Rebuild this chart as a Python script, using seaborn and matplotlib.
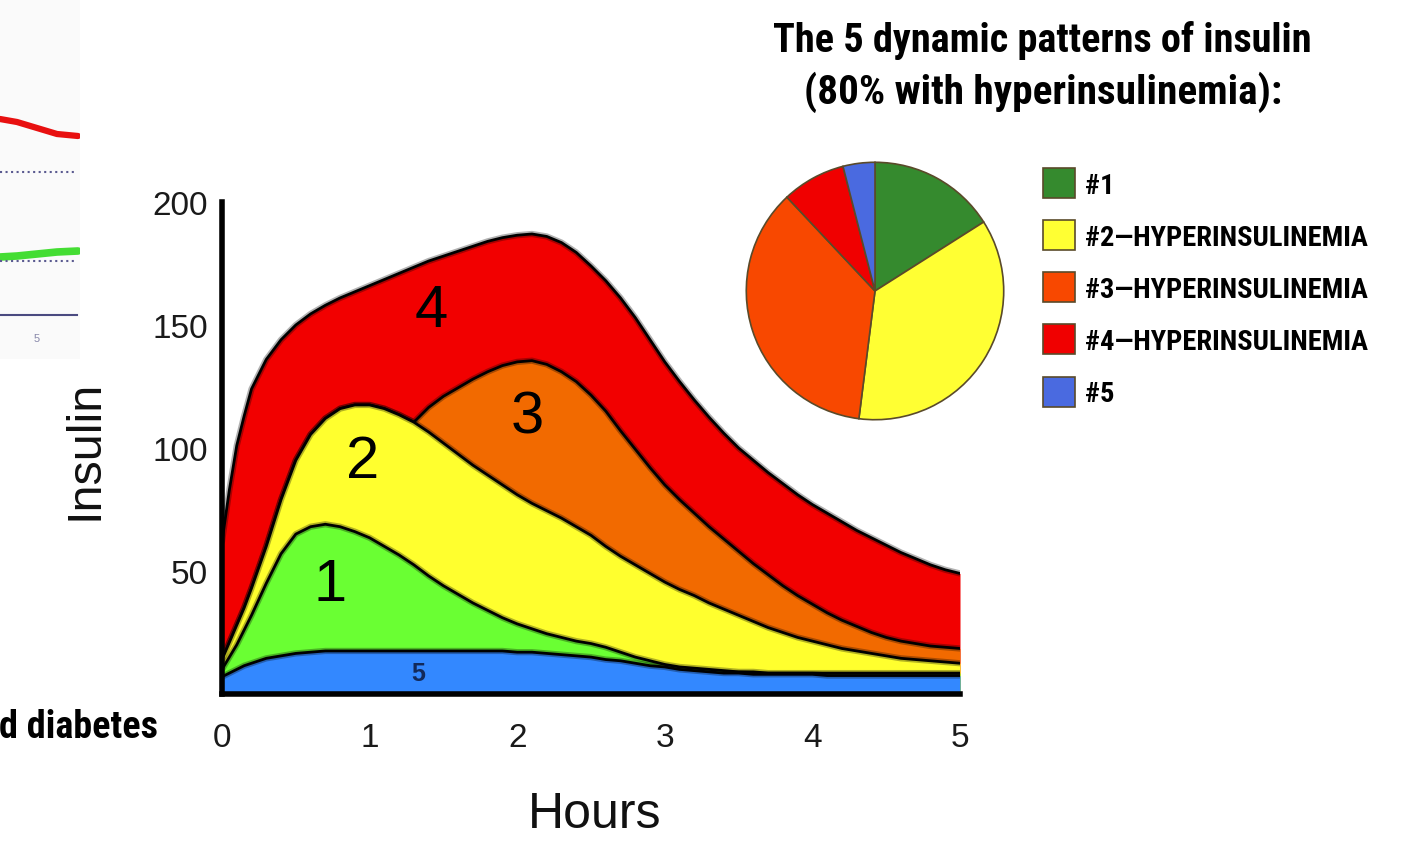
#5 dynamic insulin patterns - area curves plus pie of pattern share
import seaborn as sns
import matplotlib.pyplot as plt
import matplotlib.patheffects as pe
from matplotlib import font_manager as fm

sns.set_style('white')
plt.rcParams['font.family'] = ['Liberation Sans', 'DejaVu Sans']
plt.rcParams['text.color'] = 'black'
plt.rcParams['axes.labelcolor'] = 'black'

W, H = 1413, 853

# hours after glucose load
hours = [0, 0.05, 0.1, 0.15, 0.2, 0.3, 0.4, 0.5, 0.6, 0.7, 0.8, 0.9, 1.0,
         1.1, 1.2, 1.3, 1.4, 1.5, 1.6, 1.7, 1.8, 1.9, 2.0,
         2.1, 2.2, 2.3, 2.4, 2.5, 2.6, 2.7, 2.8, 2.9, 3.0,
         3.1, 3.2, 3.3, 3.4, 3.5, 3.6, 3.7, 3.8, 3.9, 4.0,
         4.1, 4.2, 4.3, 4.4, 4.5, 4.6, 4.7, 4.8, 4.9, 5.0]

# insulin curves
pattern4 = [62, 83, 101, 113, 124, 136, 144, 150, 154.5, 158, 161, 163.5, 166,
            168.5, 171, 173.5, 176, 178, 180, 182, 184, 185.5, 186.5,
            187, 186, 183.5, 179.5, 174, 168, 161, 153, 144, 135,
            127, 119.5, 112.5, 106, 100, 95, 90, 85.5, 81, 77,
            73.5, 70, 66.5, 63.5, 60.5, 57.5, 55, 52.5, 50.5, 49]
pattern3 = [14, 21, 28, 35, 43, 60, 79, 95, 105.5, 112, 116, 117.5, 117.5,
            116, 113.5, 110.5, 116.5, 121, 124.5, 128, 131, 133.5, 135,
            135.5, 134, 131, 127, 121.5, 115, 107, 99.5, 92, 85,
            79, 73.5, 68, 63, 58, 53, 48.5, 44, 40, 36.5,
            33, 30, 27.5, 25, 23, 21.5, 20.5, 19.5, 19, 18.5]
pattern2 = [14, 21, 28, 35, 43, 60, 79, 95, 105.5, 112, 116, 117.5, 117.5,
            116, 113.5, 110.5, 106.5, 102, 97.5, 93, 89, 85, 81,
            77.5, 74.5, 71.5, 68, 64.5, 60, 56, 52.5, 49, 45.5,
            42.5, 40, 37, 34.5, 32, 29.5, 27, 25, 23, 21.5,
            20, 18.5, 17.5, 16.5, 15.5, 14.5, 14, 13.5, 13, 12.5]
pattern1 = [10, 15, 20, 26, 32, 45, 57, 65, 68, 69, 68, 66, 63.5,
            60, 56.5, 52.5, 48, 44, 40.5, 37, 34, 31, 28.5,
            26.5, 24.5, 23, 21.5, 20.5, 19, 17, 15, 13.5, 12,
            11, 10.5, 10, 9.5, 9, 9, 8.5, 8.5, 8.5, 8.5,
            8.5, 8.5, 8.5, 8.5, 8.5, 8.5, 8.5, 8.5, 8.5, 8.5]
pattern5 = [7, 8.5, 10, 11.5, 12.5, 14.5, 15.5, 16.5, 17, 17.5, 17.5, 17.5, 17.5,
            17.5, 17.5, 17.5, 17.5, 17.5, 17.5, 17.5, 17.5, 17.5, 17,
            17, 16.5, 16, 15.5, 15, 14, 13.5, 12.5, 11.5, 11,
            10, 9.5, 9, 8.5, 8.5, 8, 8, 8, 8, 8,
            7.5, 7.5, 7.5, 7.5, 7.5, 7.5, 7.5, 7.5, 7.5, 7.5]

curve_colors = ['#f20000', '#f26a00', '#ffff2e', '#6aff33', '#3388ff']

# pie shares (%)
pie_labels = ['#1', '#2\u2014HYPERINSULINEMIA', '#3\u2014HYPERINSULINEMIA',
              '#4\u2014HYPERINSULINEMIA', '#5']
pie_shares = [16, 36, 36, 8, 4]
pie_colors = ['#358a2e', '#ffff33', '#f84800', '#f00000', '#4a6ae0']

# cropped neighbouring chart on the left edge
left_hours = [4.26, 4.6, 5.0, 5.4, 5.82]
left_red = [196, 193, 187, 181, 179]
left_green = [58, 59, 61, 63, 64]

# pick a narrow heavy font if there is one
names = {f.name for f in fm.fontManager.ttflist}
HEAD = next((n for n in ['Roboto Condensed', 'Liberation Sans Narrow', 'DejaVu Sans Condensed',
                         'Open Sans Condensed', 'Roboto'] if n in names), 'DejaVu Sans')
head_kw = dict(family=[HEAD, 'DejaVu Sans'], fontweight='heavy', fontstretch='condensed')

fig = plt.figure(figsize=(W / 100, H / 100), dpi=100)
renderer = fig.canvas.get_renderer()


def size_for(text, width_px, **kw):
    # font size that makes text span width_px
    t = fig.text(0, 0, text, fontsize=20, **kw)
    w = t.get_window_extent(renderer).width
    t.remove()
    return 20 * width_px / w


# ---- main area chart
ax = fig.add_axes([222 / W, 1 - 695 / H, 738 / W, 492 / H])
curves = [pattern4, pattern3, pattern2, pattern1, pattern5]
for i, (vals, col) in enumerate(zip(curves, curve_colors)):
    z = 1 + i
    ax.fill_between(hours, 0, vals, color=col, lw=0, zorder=z)
    sns.lineplot(x=hours, y=vals, color='black', lw=2.0, ax=ax, zorder=z + 0.5,
                 path_effects=[pe.Stroke(linewidth=4.5, foreground='black', alpha=0.3), pe.Normal()])

ax.set_xlim(0, 5)
ax.set_ylim(0, 200)
ax.set_xticks([0, 1, 2, 3, 4, 5])
ax.set_yticks([50, 100, 150, 200])
ax.tick_params(length=0, labelsize=24, colors='#1a1a1a')
ax.tick_params(axis='x', pad=20)
ax.tick_params(axis='y', pad=10)
sns.despine(ax=ax)
for s in ['left', 'bottom']:
    ax.spines[s].set_linewidth(4)
    ax.spines[s].set_color('black')
    ax.spines[s].set_zorder(10)

ax.set_xlabel('Hours', fontsize=36, color='#111111', va='center')
ax.xaxis.set_label_coords(0.505, -0.244)
ax.set_ylabel('Insulin', fontsize=35, color='#111111', va='center')
ax.yaxis.set_label_coords(-0.186, 0.498)

# numbers on the areas
ax.text(1.42, 155.7, '4', fontsize=43, ha='center', va='center', zorder=20)
ax.text(2.07, 112.6, '3', fontsize=43, ha='center', va='center', zorder=20)
ax.text(0.95, 94.7, '2', fontsize=43, ha='center', va='center', zorder=20)
ax.text(0.73, 44.7, '1', fontsize=43, ha='center', va='center', zorder=20)
ax.text(1.33, 8.5, '5', fontsize=18, fontweight='bold', color='#12295a',
        ha='center', va='center', zorder=20)

# ---- pie
pax = fig.add_axes([745 / W, 1 - 422 / H, 260 / W, 260 / H])
wedges, _ = pax.pie(pie_shares, colors=pie_colors, startangle=90, counterclock=False,
                    wedgeprops=dict(edgecolor='#5a4a2a', linewidth=1.2))
pax.set_xlim(-1.01, 1.01)
pax.set_ylim(-1.01, 1.01)
pax.set_aspect('equal')

leg_size = size_for(pie_labels[1], 283, **head_kw)
fs_px = leg_size * 100 / 72
hh = (30 / fs_px - 0.245) / 0.65
fig.legend(wedges, pie_labels, loc='upper left', bbox_to_anchor=(1043 / W, 1 - 169 / H),
           frameon=False,
           prop=fm.FontProperties(family=[HEAD, 'DejaVu Sans'], weight='heavy',
                                  stretch='condensed', size=leg_size),
           handlelength=32 / fs_px, handleheight=hh,
           handletextpad=10 / fs_px, labelspacing=(57 - hh * fs_px) / fs_px,
           borderpad=0, borderaxespad=0)

t1 = 'The 5 dynamic patterns of insulin'
t2 = '(80% with hyperinsulinemia):'
fig.text(1042 / W, 1 - 40 / H, t1, fontsize=size_for(t1, 538, **head_kw),
         ha='center', va='center', **head_kw)
fig.text(1043 / W, 1 - 92 / H, t2, fontsize=size_for(t2, 475, **head_kw),
         ha='center', va='center', **head_kw)

# ---- cropped chart at left edge
lax = fig.add_axes([0, 1 - 360 / H, 80 / W, 360 / H])
lax.set_facecolor('#fafafa')
sns.lineplot(x=left_hours, y=left_red, color='#e81010', lw=4.5, ax=lax)
sns.lineplot(x=left_hours, y=left_green, color='#44dd33', lw=5.5, ax=lax)
lax.axhline(143, xmax=0.93, color='#5a5a90', lw=1.5, ls=':')
lax.axhline(54, xmax=0.93, color='#5a5a90', lw=1.5, ls=':')
lax.set_xlim(4.26, 5.86)
lax.set_ylim(-44, 316)
lax.set_xticks([5])
lax.set_yticks([])
lax.tick_params(axis='x', length=6, width=1.5, color='#4a4a80', labelsize=8,
                labelcolor='#8888aa', pad=7)
sns.despine(ax=lax, left=True)
lax.spines['bottom'].set_position(('data', 0))
lax.spines['bottom'].set_bounds(4.26, 5.8)
lax.spines['bottom'].set_color('#4a4a80')
lax.spines['bottom'].set_linewidth(1.5)

t3 = 'd diabetes'
fig.text(158 / W, 1 - 728 / H, t3, fontsize=size_for(t3, 158, **head_kw),
         ha='right', va='center', **head_kw)

plt.savefig('out.png', dpi=100)
